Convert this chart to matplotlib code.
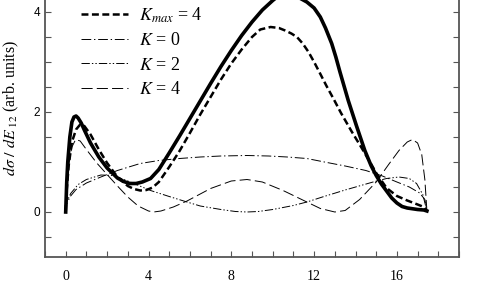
import matplotlib
matplotlib.use('Agg')
import matplotlib.pyplot as plt
from matplotlib.ticker import MultipleLocator

plt.rcParams['font.family'] = 'Liberation Serif'
plt.rcParams['mathtext.fontset'] = 'stix'
plt.rcParams['lines.scale_dashes'] = False

# thick solid curve (its legend entry is above the visible area)
x_solid = [0, 0.05, 0.1, 0.2, 0.3, 0.4, 0.5, 0.6, 0.75, 0.9, 1.2, 1.6, 2.0, 2.5, 2.8, 3.1, 3.4,
           3.7, 4.1, 4.5, 5.0, 5.5, 6.0, 6.5, 7.0, 7.5, 8.0, 8.5, 9.0, 9.5, 10.0, 10.3, 10.65,
           11.0, 11.3, 11.65, 12.0, 12.3, 12.55, 12.85, 13.05, 13.25, 13.65, 14.05, 14.45, 14.75,
           15.0, 15.25, 15.5, 15.75, 16.0, 16.25, 16.5, 17.0, 17.3, 17.45]
y_solid = [0, 0.6, 1.0, 1.5, 1.8, 1.9, 1.92, 1.88, 1.78, 1.64, 1.38, 1.1, 0.88, 0.68, 0.61, 0.57,
           0.57, 0.6, 0.67, 0.85, 1.18, 1.52, 1.87, 2.22, 2.57, 2.91, 3.23, 3.53, 3.8, 4.04, 4.23,
           4.33, 4.38, 4.36, 4.28, 4.2, 4.08, 3.9, 3.68, 3.37, 3.1, 2.8, 2.23, 1.72, 1.23, 0.93,
           0.73, 0.56, 0.42, 0.28, 0.18, 0.11, 0.08, 0.05, 0.04, 0.02]

# K_max = 4 (thick dashed)
x_kmax = [0, 0.05, 0.15, 0.3, 0.5, 0.7, 0.9, 1.2, 1.6, 2.0, 2.5, 3.0, 3.3, 3.6, 3.9, 4.2, 4.5,
          5.0, 5.5, 6.0, 6.5, 7.0, 7.5, 8.0, 8.5, 9.0, 9.4, 9.9, 10.3, 10.6, 10.9, 11.17, 11.45,
          11.73, 12.0, 12.29, 12.6, 12.93, 13.3, 13.8, 14.3, 14.7, 15.0, 15.5, 16.0, 16.5, 17.0,
          17.3, 17.45]
y_kmax = [0, 0.45, 0.95, 1.4, 1.65, 1.75, 1.72, 1.55, 1.25, 0.98, 0.7, 0.52, 0.46, 0.43, 0.44,
          0.49, 0.6, 0.9, 1.22, 1.58, 1.95, 2.3, 2.65, 2.97, 3.25, 3.5, 3.65, 3.7, 3.68, 3.63,
          3.57, 3.5, 3.37, 3.2, 3.0, 2.77, 2.52, 2.27, 1.98, 1.62, 1.28, 1.0, 0.78, 0.48, 0.32,
          0.23, 0.15, 0.1, 0.02]

# K = 0 (dash-dot)
x_k0 = [0, 0.05, 0.2, 0.5, 1.0, 1.7, 2.5, 3.6, 4.5, 5.5, 6.5, 7.5, 8.75, 9.8, 10.7, 11.65, 12.5,
        13.5, 14.5, 15.3, 16.0, 16.6, 17.1, 17.35, 17.45]
y_k0 = [0, 0.15, 0.3, 0.45, 0.58, 0.7, 0.83, 0.97, 1.03, 1.07, 1.1, 1.12, 1.13, 1.12, 1.1, 1.07, 1.0,
        0.92, 0.83, 0.72, 0.6, 0.5, 0.38, 0.25, 0.02]

# K = 2 (dash-dot-dot)
x_k2 = [0, 0.05, 0.24, 0.6, 1.0, 1.7, 2.3, 3.0, 4.1, 5.0, 5.86, 6.5, 7.5, 8.2, 8.76, 9.3, 10.0,
        11.0, 11.65, 12.4, 13.5, 14.85, 15.5, 16.1, 16.6, 16.95, 17.25, 17.45]
y_k2 = [0, 0.2, 0.37, 0.55, 0.65, 0.74, 0.73, 0.62, 0.43, 0.31, 0.2, 0.12, 0.05, 0.01, 0.0, 0.01,
        0.05, 0.13, 0.2, 0.3, 0.44, 0.6, 0.67, 0.7, 0.67, 0.57, 0.35, 0.02]

# K = 4 (long dash)
x_k4 = [0, 0.05, 0.15, 0.3, 0.48, 0.7, 1.0, 1.5, 2.0, 2.5, 3.0, 3.5, 4.0, 4.25, 4.6, 5.2, 5.86,
        7.0, 8.0, 8.76, 9.5, 10.5, 11.65, 12.3, 13.0, 13.5, 14.2, 15.0, 15.6, 16.1, 16.5, 16.75,
        17.0, 17.2, 17.35, 17.45]
y_k4 = [0, 0.45, 0.95, 1.3, 1.45, 1.42, 1.25, 0.98, 0.75, 0.52, 0.3, 0.12, 0.02, 0.0, 0.02, 0.1,
        0.22, 0.47, 0.62, 0.65, 0.6, 0.43, 0.2, 0.07, 0.0, 0.03, 0.25, 0.6, 0.95, 1.23, 1.4,
        1.45, 1.38, 1.15, 0.65, 0.02]

fig = plt.figure(figsize=(4.8, 3.02), dpi=100)
# axes top runs past the figure edge, like the cropped original
ax = fig.add_axes([45 / 480, 45 / 302, 414 / 480, 275 / 302])

ax.plot(x_solid, y_solid, color='black', lw=2.6, solid_joinstyle='round')
ax.plot(x_kmax, y_kmax, color='black', lw=1.8, dashes=(5, 2.5), label='$K_{max}$ = 4')
ax.plot(x_k0, y_k0, color='black', lw=0.7, dashes=(7, 2, 1, 2), label='$K$ = 0')
ax.plot(x_k2, y_k2, color='black', lw=0.7, dashes=(6, 1.5, 1, 1.5, 1, 1.5), label='$K$ = 2')
ax.plot(x_k4, y_k4, color='black', lw=0.7, dashes=(8, 3), label='$K$ = 4')

ax.set_xlim(-1, 19)
ax.set_ylim(-0.9, 4.6)
ax.xaxis.set_major_locator(MultipleLocator(4))
ax.xaxis.set_minor_locator(MultipleLocator(1))
ax.yaxis.set_major_locator(MultipleLocator(2))
ax.yaxis.set_minor_locator(MultipleLocator(0.5))
ax.tick_params(which='both', direction='in', length=4, width=0.8, color='#555555',
               left=True, right=True, bottom=True, top=False)
ax.tick_params(axis='x', labelsize=10, pad=9)
for lab in ax.get_yticklabels():
    lab.set_family('Liberation Sans')
    lab.set_fontsize(8.5)
for s in ax.spines.values():
    s.set_color('#555555')
    s.set_linewidth(1.3)

ax.set_ylabel(r'$d\sigma\ /\ dE_{\ \mathrm{12}}$ (arb. units)', fontsize=11.5)
ax.yaxis.set_label_coords(-0.058, 0.543)
ax.set_xlabel(r'$E_{\ \mathrm{12}}$ (MeV)', fontsize=10, labelpad=14)

ax.legend(loc='upper left', bbox_to_anchor=(0.069, 0.942), frameon=False, fontsize=13,
          handlelength=2.6, handletextpad=0.65, labelspacing=0.42, borderaxespad=0)

fig.savefig('out.png', dpi=100)
